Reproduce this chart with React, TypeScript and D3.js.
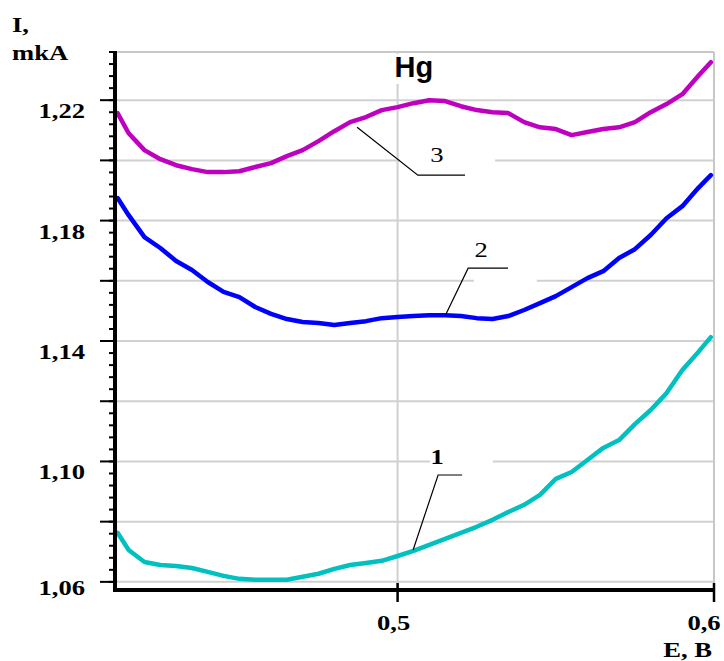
import React from "react";
import * as d3 from "d3";

// ---- data ----
const E = [0.4115, 0.415, 0.42, 0.425, 0.43, 0.435, 0.44, 0.445, 0.45, 0.455, 0.46, 0.465, 0.47, 0.475, 0.48, 0.485, 0.49, 0.495, 0.5, 0.505, 0.51, 0.515, 0.52, 0.525, 0.53, 0.535, 0.54, 0.545, 0.55, 0.555, 0.56, 0.565, 0.57, 0.575, 0.58, 0.585, 0.59, 0.595, 0.599];

const I1 = [1.0763, 1.0706, 1.0666, 1.0656, 1.0653, 1.0646, 1.0633, 1.062, 1.061, 1.0607, 1.0607, 1.0607, 1.0617, 1.0627, 1.0643, 1.0656, 1.0663, 1.067, 1.0686, 1.0703, 1.0723, 1.0743, 1.0763, 1.0783, 1.0806, 1.0832, 1.0856, 1.0889, 1.0942, 1.0965, 1.1005, 1.1045, 1.1071, 1.1124, 1.1171, 1.1227, 1.1304, 1.1363, 1.1413];

const I2 = [1.1875, 1.1818, 1.1745, 1.1709, 1.1666, 1.1636, 1.1596, 1.1563, 1.1546, 1.1513, 1.149, 1.1473, 1.1463, 1.146, 1.1453, 1.146, 1.1466, 1.1476, 1.148, 1.1483, 1.1486, 1.1486, 1.1483, 1.1476, 1.1473, 1.1483, 1.1503, 1.1526, 1.1549, 1.1579, 1.1609, 1.1632, 1.1676, 1.1705, 1.1752, 1.1808, 1.1848, 1.1908, 1.1951];

const I3 = [1.2157, 1.209, 1.2034, 1.2004, 1.1984, 1.1971, 1.1961, 1.1961, 1.1964, 1.1978, 1.1991, 1.2014, 1.2034, 1.2064, 1.2097, 1.2127, 1.2144, 1.2167, 1.2177, 1.219, 1.22, 1.2197, 1.218, 1.2167, 1.216, 1.2157, 1.2127, 1.211, 1.2104, 1.2084, 1.2094, 1.2104, 1.211, 1.2127, 1.216, 1.2187, 1.222, 1.228, 1.2326];

const seriesNames = ["1", "2", "3"];
const seriesValues = [I1, I2, I3];
const seriesColors = ["#00c0c0", "#0000ff", "#c000c0"];

const yLabelTicks = [1.06, 1.1, 1.14, 1.18, 1.22];
const yGridTicks = [1.06, 1.08, 1.1, 1.12, 1.14, 1.16, 1.18, 1.2, 1.22];
const xLabelTicks = [0.5, 0.6];

// leader lines for curve labels, in data units: [E, I] points
const leaderPaths = [
  [[0.5049, 1.0706], [0.5128, 1.0955], [0.5204, 1.0955]],
  [[0.515, 1.1483], [0.5223, 1.1642], [0.5349, 1.1642]],
  [[0.4872, 1.211], [0.5064, 1.1951], [0.5213, 1.1951]],
];
const labelPos = [[0.5125, 1.1015], [0.5264, 1.1702], [0.5124, 1.2017]];
// white patches behind labels (E0, E1, I0, I1)
const labelPatches = [
  [0.5102, 0.5301, 1.0955, 1.1055],
  [0.5241, 0.544, 1.1569, 1.1735],
  [0.5008, 0.5308, 1.1967, 1.2067],
];

const W = 724;
const H = 661;
const SX = 1.33; // horizontal stretch of text in reference

export default function App() {
  const x = d3.scaleLinear().domain([0.411, 0.6]).range([116, 714]);
  const y = d3.scaleLinear().domain([1.0573, 1.236]).range([590, 52]);
  const minorTicks = d3.range(0, 45).map((i) => 1.06 + i * 0.004);
  const fmt = (v: number, p: number) => d3.format(`.${p}f`)(v).replace(".", ",");
  const line = d3
    .line<number>()
    .x((_, i) => x(E[i]))
    .y((d) => y(d))
    .curve(d3.curveLinear);
  const leader = d3
    .line<number[]>()
    .x((d) => x(d[0]))
    .y((d) => y(d[1]));
  const serif = "'Liberation Serif', 'Times New Roman', serif";
  const [x0, x1] = x.range();
  const [yb, yt] = y.range();

  return (
    <svg
      width={W}
      height={H}
      style={{ position: "absolute", left: 0, top: 0, display: "block", background: "#fff" }}
    >
      <rect x={0} y={0} width={W} height={H} fill="#fff" />
      {/* grid */}
      {yGridTicks.map((t) => (
        <line key={"g" + t} x1={x0} x2={x1} y1={y(t)} y2={y(t)} stroke="#d0d0d0" strokeWidth={2} />
      ))}
      <line x1={x0} x2={x1} y1={yt} y2={yt} stroke="#c8c8c8" strokeWidth={2} />
      <line x1={x1} x2={x1} y1={yt} y2={yb} stroke="#c8c8c8" strokeWidth={2} />
      <line x1={x(0.5)} x2={x(0.5)} y1={yt} y2={yb} stroke="#d0d0d0" strokeWidth={2} />

      {/* white patches behind labels */}
      {labelPatches.map((p, i) => (
        <rect
          key={"p" + i}
          x={x(p[0])}
          y={y(p[3])}
          width={x(p[1]) - x(p[0])}
          height={y(p[2]) - y(p[3])}
          fill="#fff"
        />
      ))}
      {/* title patch + title */}
      <rect x={x(0.5) - 2} y={54} width={44} height={30} fill="#fff" />
      <text
        x={x(0.5) - 3}
        y={77}
        fontFamily="'Liberation Sans', Arial, sans-serif"
        fontWeight="bold"
        fontSize={29}
        fill="#000"
      >
        Hg
      </text>

      {/* curves */}
      {seriesValues.map((vals, i) => (
        <path
          key={"s" + seriesNames[i]}
          d={line(vals) || ""}
          fill="none"
          stroke={seriesColors[i]}
          strokeWidth={4.5}
          strokeLinejoin="round"
          strokeLinecap="round"
        />
      ))}

      {/* leaders and labels */}
      {leaderPaths.map((pts, i) => (
        <path key={"l" + i} d={leader(pts) || ""} fill="none" stroke="#000" strokeWidth={1.2} />
      ))}
      {labelPos.map((p, i) => (
        <text
          key={"t" + i}
          transform={`translate(${x(p[0])},${y(p[1]) + 7}) scale(${SX},1)`}
          textAnchor="middle"
          fontFamily={serif}
          fontWeight={i === 0 ? "bold" : "normal"}
          fontSize={20}
          fill="#000"
        >
          {seriesNames[i]}
        </text>
      ))}

      {/* y axis */}
      {minorTicks.map((t, i) => (
        <line key={"m" + i} x1={x0 - 7} x2={x0} y1={y(t)} y2={y(t)} stroke="#000" strokeWidth={2} />
      ))}
      {yGridTicks.map((t) => (
        <line key={"M" + t} x1={x0 - 16} x2={x0} y1={y(t)} y2={y(t)} stroke="#000" strokeWidth={2} />
      ))}
      <line x1={x0 - 1} x2={x0 - 1} y1={yt - 1} y2={yb + 2} stroke="#000" strokeWidth={4} />
      {yLabelTicks.map((t) => (
        <text
          key={"yl" + t}
          transform={`translate(85,${Math.min(y(t) + 18, yb + 5)}) scale(${SX},1)`}
          textAnchor="end"
          fontFamily={serif}
          fontWeight="bold"
          fontSize={20}
          fill="#000"
        >
          {fmt(t, 2)}
        </text>
      ))}

      {/* x axis */}
      <line x1={x0 - 3} x2={x1 + 1} y1={yb} y2={yb} stroke="#000" strokeWidth={4} />
      {xLabelTicks.map((t) => (
        <line key={"xt" + t} x1={x(t)} x2={x(t)} y1={yb - 7} y2={yb + 12} stroke="#000" strokeWidth={2.5} />
      ))}
      {xLabelTicks.map((t) => (
        <text
          key={"xl" + t}
          transform={`translate(${Math.min(x(t) - 4, W - 20)},630) scale(${SX},1)`}
          textAnchor="middle"
          fontFamily={serif}
          fontWeight="bold"
          fontSize={20}
          fill="#000"
        >
          {fmt(t, 1)}
        </text>
      ))}

      {/* axis titles */}
      <text transform={`translate(712,657) scale(${SX},1)`} textAnchor="end" fontFamily={serif} fontWeight="bold" fontSize={20} fill="#000">
        E, B
      </text>
      <text transform={`translate(12,32) scale(${SX},1)`} fontFamily={serif} fontWeight="bold" fontSize={20} fill="#000">
        I,
      </text>
      <text transform={`translate(12,60) scale(${SX},1)`} fontFamily={serif} fontWeight="bold" fontSize={20} fill="#000">
        mkA
      </text>
    </svg>
  );
}
